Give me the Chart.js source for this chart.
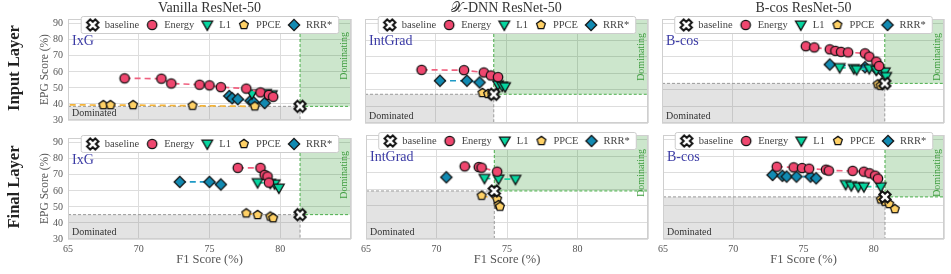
<!DOCTYPE html>
<html>
<head>
<meta charset="utf-8">
<script src="https://cdn.jsdelivr.net/npm/chart.js@4.4.0/dist/chart.umd.min.js"></script>
<style>
  body { margin: 0; background: #fff; width: 951px; height: 274px; overflow: hidden; position: relative; font-family: "Liberation Serif", serif; }
  canvas { position: absolute; }
  .coltitle { position: absolute; top: 0; width: 283px; text-align: center; font-size: 14px; line-height: 16px; color: #333; z-index: 2; }
  .rowtitle { position: absolute; width: 120px; text-align: center; font-size: 16.5px; font-weight: bold; color: #222; transform: rotate(-90deg); z-index: 2; }
</style>
</head>
<body>
<script>
// axis ticks and names
const xTicks = [65, 70, 75, 80, 85];
const yTicks = [30, 40, 50, 60, 70, 80, 90];
const methods = ["Energy", "L1", "PPCE", "RRR*"];
const columnTitles = ["Vanilla ResNet-50", "𝒳-DNN ResNet-50", "B-cos ResNet-50"];
const rowTitles = ["Input Layer", "Final Layer"];
const attributionNames = ["IxG", "IntGrad", "B-cos"];

// baseline [F1, EPG] for each column
const baselineInput = [[81.4, 38.5], [74.1, 47.4], [80.8, 54.0]];
const baselineFinal = [[81.4, 45.2], [74.1, 59.1], [80.8, 55.5]];

// [F1, EPG] points per method
const vanillaInput = {
  "Energy": [[69.0, 56.0], [71.6, 55.8], [72.3, 52.8], [74.3, 52.0], [75.0, 51.6], [75.8, 50.5], [77.6, 49.6], [78.6, 47.2], [79.2, 45.6], [79.5, 44.5]],
  "L1": [[78.0, 46.4], [79.0, 46.6], [79.4, 45.8]],
  "PPCE": [[63.0, 39.6], [67.5, 39.3], [68.0, 39.3], [69.6, 39.3], [73.8, 38.9], [78.2, 38.5]],
  "RRR*": [[76.4, 45.0], [76.6, 43.6], [77.0, 43.0], [77.9, 42.0], [78.1, 41.2], [78.9, 40.6]]
};
const xdnnInput = {
  "Energy": [[69.0, 62.2], [72.0, 62.0], [73.4, 60.6], [73.9, 58.8], [74.4, 57.8]],
  "L1": [[74.4, 53.2], [74.7, 52.4], [74.9, 52.0]],
  "PPCE": [[73.3, 48.2], [73.7, 47.6], [74.0, 46.9]],
  "RRR*": [[70.3, 55.6], [72.2, 55.6], [73.1, 54.6]]
};
const bcosInput = {
  "Energy": [[75.2, 76.5], [75.8, 75.8], [76.9, 74.6], [77.3, 73.7], [77.7, 73.1], [78.2, 72.8], [79.4, 72.2], [79.7, 70.2], [80.2, 67.2], [80.4, 64.5]],
  "L1": [[77.6, 63.6], [78.6, 63.0], [78.8, 62.4], [79.7, 63.0], [80.2, 62.0], [80.8, 61.0], [80.9, 58.2]],
  "PPCE": [[80.3, 53.4], [80.5, 52.6]],
  "RRR*": [[76.9, 65.4], [79.4, 63.8], [80.2, 62.6], [80.6, 61.6]]
};
const vanillaFinal = {
  "Energy": [[77.0, 74.4], [78.6, 74.4], [78.9, 70.0], [79.1, 69.0], [79.2, 65.2]],
  "L1": [[78.4, 65.2], [79.3, 64.8], [79.6, 64.4], [79.9, 61.8]],
  "PPCE": [[77.6, 46.0], [78.4, 45.0], [79.3, 44.0], [79.5, 43.0]],
  "RRR*": [[72.9, 65.6], [75.0, 65.6], [75.8, 64.0]]
};
const xdnnFinal = {
  "Energy": [[72.0, 74.0], [73.0, 73.6], [73.2, 73.2], [74.3, 70.8]],
  "L1": [[73.4, 66.8], [74.4, 66.4], [75.6, 66.2]],
  "PPCE": [[73.2, 56.2], [74.3, 54.2], [74.4, 50.6], [74.5, 49.6]],
  "RRR*": [[70.7, 67.4]]
};
const bcosFinal = {
  "Energy": [[73.1, 73.8], [74.3, 73.4], [74.9, 73.0], [75.4, 72.6], [76.6, 72.0], [76.8, 71.4], [78.5, 71.3], [79.3, 70.8], [79.7, 69.8], [80.1, 68.4], [80.3, 66.6]],
  "L1": [[78.0, 63.1], [78.4, 62.3], [78.9, 61.7], [79.3, 61.7], [80.5, 61.7]],
  "PPCE": [[80.5, 54.0], [80.8, 52.6], [81.1, 51.2], [81.5, 48.1]],
  "RRR*": [[72.8, 68.8], [73.5, 68.3], [73.8, 67.8], [74.5, 67.8], [75.5, 67.8], [75.9, 66.8]]
};

const markerColors = ["#ef476f", "#06d6a0", "#ffd166", "#118ab2"];
const lineColors = ["#f0607f", "#20d4a4", "#f4b43a", "#1f9ac6"];
const markerShapes = ["circle", "triDown", "pentagon", "diamond"];

const serif = "'Liberation Serif', serif";
Chart.defaults.font.family = serif;

// marker images (canvas point styles)
function makeMarker(shape, fill) {
  const c = document.createElement("canvas");
  const size = 16;
  c.width = c.height = size;
  const g = c.getContext("2d");
  g.translate(size / 2, size / 2);
  g.beginPath();
  let lw = 1.3;
  if (shape === "circle") {
    g.arc(0, 0, 4.7, 0, Math.PI * 2);
  } else if (shape === "triDown") {
    g.moveTo(-5.3, -3.8); g.lineTo(5.3, -3.8); g.lineTo(0, 5.4); g.closePath();
  } else if (shape === "pentagon") {
    for (let i = 0; i < 5; i++) {
      const a = -Math.PI / 2 + i * 2 * Math.PI / 5;
      g.lineTo(4.6 * Math.cos(a), 4.6 * Math.sin(a));
    }
    g.closePath();
  } else if (shape === "diamond") {
    g.moveTo(0, -5.6); g.lineTo(5.6, 0); g.lineTo(0, 5.6); g.lineTo(-5.6, 0); g.closePath();
  } else if (shape === "xfill") {
    const w = 2.2, L = 5.8;
    const pts = [[-w, -L], [w, -L], [w, -w], [L, -w], [L, w], [w, w], [w, L], [-w, L], [-w, w], [-L, w], [-L, -w], [-w, -w]];
    const r = Math.PI / 4;
    pts.forEach(([px, py]) => g.lineTo(px * Math.cos(r) - py * Math.sin(r), px * Math.sin(r) + py * Math.cos(r)));
    g.closePath();
    lw = 2;
  }
  g.fillStyle = fill;
  g.fill();
  g.lineWidth = lw;
  g.strokeStyle = "#111";
  g.stroke();
  return c;
}

const baselineMarker = makeMarker("xfill", "#fff");
const methodMarkers = markerShapes.map((s, i) => makeMarker(s, markerColors[i]));

// background regions, annotations, frame and legend
const panelPlugin = {
  id: "panel",
  beforeDatasetsDraw(chart, args, opts) {
    const { ctx, chartArea: a, scales: { x, y } } = chart;
    const bx = x.getPixelForValue(opts.baseline[0]);
    const by = y.getPixelForValue(opts.baseline[1]);
    ctx.save();
    ctx.fillStyle = "rgba(128,128,128,0.22)";
    ctx.fillRect(a.left, by, bx - a.left, a.bottom - by);
    ctx.fillStyle = "rgba(0,128,0,0.2)";
    ctx.fillRect(bx, a.top, a.right - bx, by - a.top);

    ctx.lineWidth = 1;
    ctx.setLineDash([3, 2]);
    ctx.strokeStyle = "#9a9a9a";
    ctx.beginPath();
    ctx.moveTo(a.left, by); ctx.lineTo(bx, by);
    ctx.moveTo(bx, by); ctx.lineTo(bx, a.bottom);
    ctx.stroke();
    ctx.strokeStyle = "#49ad49";
    ctx.beginPath();
    ctx.moveTo(bx, a.top); ctx.lineTo(bx, by);
    ctx.moveTo(bx, by); ctx.lineTo(a.right, by);
    ctx.stroke();
    ctx.setLineDash([]);

    ctx.font = "10px " + serif;
    ctx.fillStyle = "#333";
    ctx.textAlign = "left";
    ctx.textBaseline = "alphabetic";
    ctx.fillText("Dominated", a.left + 4, a.bottom - 4);

    ctx.save();
    ctx.translate(a.right - 7, y.getPixelForValue(70));
    ctx.rotate(-Math.PI / 2);
    ctx.fillStyle = "#3d9c3d";
    ctx.textAlign = "center";
    ctx.textBaseline = "middle";
    ctx.fillText("Dominating", 0, 0);
    ctx.restore();

    ctx.font = "14px " + serif;
    ctx.fillStyle = "#3b3ba5";
    ctx.textBaseline = "top";
    ctx.fillText(opts.method, a.left + 4, a.top + 15);
    ctx.restore();
  },
  afterDraw(chart, args, opts) {
    const { ctx, chartArea: a } = chart;
    ctx.save();
    ctx.strokeStyle = "#cfcfcf";
    ctx.lineWidth = 1;
    ctx.strokeRect(a.left + 0.5, a.top + 0.5, a.right - a.left - 1, a.bottom - a.top - 1);

    // legend
    const labels = ["baseline"].concat(methods);
    const icons = [baselineMarker].concat(methodMarkers);
    ctx.font = "10.5px " + serif;
    const widths = labels.map(t => ctx.measureText(t).width);
    let total = 12;
    widths.forEach((w, i) => { total += 12 + w + (i < widths.length - 1 ? 13 : 6); });
    const left = (a.left + a.right) / 2 - total / 2;
    const top = a.top - 3, h = 17;
    ctx.fillStyle = "#fff";
    ctx.strokeStyle = "#cccccc";
    ctx.beginPath();
    ctx.roundRect(left + 0.5, top + 0.5, total, h, 2);
    ctx.fill();
    ctx.stroke();
    let cx = left + 12;
    const cy = top + h / 2 + 0.5;
    ctx.fillStyle = "#444";
    ctx.textBaseline = "middle";
    ctx.textAlign = "left";
    labels.forEach((t, i) => {
      ctx.drawImage(icons[i], cx - icons[i].width / 2, cy - icons[i].height / 2);
      ctx.fillText(t, cx + 12, cy + 0.5);
      cx += 12 + widths[i] + 13;
    });
    ctx.restore();
  }
};

// panel boxes (canvas placement)
const colBox = [
  { left: 20, width: 339, padL: 0, padR: 8, yW: 48 },
  { left: 357, width: 299, padL: 8, padR: 8, yW: 0 },
  { left: 654, width: 297, padL: 8, padR: 6, yW: 0 }
];
const rowBox = [
  { top: 0, height: 131, padT: 19, padB: 8, xH: 0 },
  { top: 127, height: 147, padT: 8, padB: 0, xH: 35 }
];

function makePanel(row, col, points, baseline) {
  const cb = colBox[col], rb = rowBox[row];
  const canvas = document.createElement("canvas");
  canvas.width = cb.width;
  canvas.height = rb.height;
  canvas.style.left = cb.left + "px";
  canvas.style.top = rb.top + "px";
  document.body.appendChild(canvas);

  const datasets = [{
    label: "baseline",
    data: [{ x: baseline[0], y: baseline[1] }],
    pointStyle: baselineMarker,
    pointRadius: 6,
    showLine: false
  }];
  methods.forEach((m, i) => {
    datasets.push({
      label: m,
      data: points[m].map(p => ({ x: p[0], y: p[1] })),
      showLine: true,
      borderColor: lineColors[i],
      borderWidth: 1.7,
      borderDash: [6, 4],
      pointStyle: methodMarkers[i],
      pointRadius: 5
    });
  });

  const showX = row === 1, showY = col === 0;
  new Chart(canvas.getContext("2d"), {
    type: "scatter",
    data: { datasets },
    plugins: [panelPlugin],
    options: {
      responsive: false,
      animation: false,
      events: [],
      layout: { padding: { left: cb.padL, right: cb.padR, top: rb.padT, bottom: rb.padB } },
      plugins: {
        legend: { display: false },
        tooltip: { enabled: false },
        panel: { baseline: baseline, method: attributionNames[col] }
      },
      scales: {
        x: {
          type: "linear",
          min: 65, max: 85,
          afterBuildTicks: axis => { axis.ticks = xTicks.map(v => ({ value: v })); },
          afterFit: s => { s.height = rb.xH; },
          grid: { color: "#dddddd", drawTicks: false },
          border: { display: false },
          ticks: {
            display: showX,
            padding: 4,
            color: "#555",
            font: { size: 10, family: serif },
            callback: v => (v === 85 ? "" : v)
          },
          title: {
            display: showX,
            text: "F1 Score (%)",
            color: "#555",
            font: { size: 12.5, family: serif },
            padding: { top: 0, bottom: 7 }
          }
        },
        y: {
          type: "linear",
          min: 30, max: 93,
          afterBuildTicks: axis => { axis.ticks = yTicks.map(v => ({ value: v })); },
          afterFit: s => { s.width = cb.yW; },
          grid: { color: "#dddddd", drawTicks: false },
          border: { display: false },
          ticks: { display: showY, padding: 5, color: "#555", font: { size: 10, family: serif } },
          title: {
            display: showY,
            text: "EPG Score (%)",
            color: "#555",
            font: { size: 11.5, family: serif },
            padding: { top: 18, bottom: 0 }
          }
        }
      }
    }
  });
}

const panelData = [[vanillaInput, xdnnInput, bcosInput], [vanillaFinal, xdnnFinal, bcosFinal]];
const panelBaselines = [baselineInput, baselineFinal];
for (let r = 0; r < 2; r++) {
  for (let c = 0; c < 3; c++) {
    makePanel(r, c, panelData[r][c], panelBaselines[r][c]);
  }
}

// column and row titles
const plotCenters = [209.5, 506.5, 803.5];
columnTitles.forEach((t, i) => {
  const d = document.createElement("div");
  d.className = "coltitle";
  d.textContent = t;
  d.style.left = (plotCenters[i] - 141.5) + "px";
  document.body.appendChild(d);
});
const rowCenters = [68, 187];
rowTitles.forEach((t, i) => {
  const d = document.createElement("div");
  d.className = "rowtitle";
  d.textContent = t;
  d.style.left = (14 - 60) + "px";
  d.style.top = (rowCenters[i] - 10) + "px";
  document.body.appendChild(d);
});
</script>
</body>
</html>
